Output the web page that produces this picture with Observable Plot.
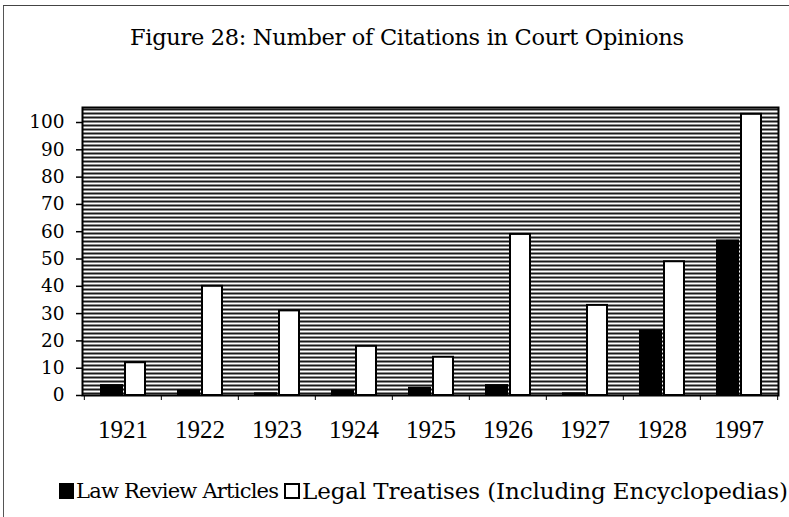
<!DOCTYPE html>
<html><head><meta charset="utf-8">
<script src="https://cdn.jsdelivr.net/npm/d3@7"></script>
<script src="https://cdn.jsdelivr.net/npm/@observablehq/plot@0.6"></script>
<style>
html,body{margin:0;padding:0;background:#fff;}
#wrap{position:relative;width:789px;height:517px;overflow:hidden;background:#fff;}
.edge-left{position:absolute;left:3px;top:5px;width:1px;height:512px;background:#555;}
.edge-top{position:absolute;left:3px;top:5px;width:786px;height:1px;background:#444;}
.txt{position:absolute;font-family:"DejaVu Serif",serif;white-space:nowrap;color:#000;}
#chart{position:absolute;left:0;top:60px;}
.sw{position:absolute;box-sizing:border-box;}
.sw.black{background:#000;}
.sw.white{background:#fff;border:2px solid #000;}
</style></head><body>
<div id="wrap">
  <div class="edge-left"></div><div class="edge-top"></div>
  <div id="chart"></div>
</div>
<script>
const titleText = "Figure 28: Number of Citations in Court Opinions";
const years = ["1921","1922","1923","1924","1925","1926","1927","1928","1997"];
const lawReview = [4, 2, 1, 2, 3, 4, 1, 24, 57];
const treatises = [12, 40, 31, 18, 14, 59, 33, 49, 103];
const yTicks = [0,10,20,30,40,50,60,70,80,90,100];
const seriesNames = ["Law Review Articles", "Legal Treatises (Including Encyclopedias)"];

const rows = years.map((y, i) => ({year: y, law: lawReview[i], treatise: treatises[i]}));

const W = 789, H = 400, mL = 82, mR = 11, mT = 47, mB = 65;
const bw = (W - mL - mR) / years.length;

const chart = Plot.plot({
  width: W, height: H,
  marginLeft: mL, marginRight: mR, marginTop: mT, marginBottom: mB,
  style: {background: "transparent", color: "#000"},
  x: {type: "band", domain: years, padding: 0, axis: null},
  y: {domain: [0, 105.5], axis: null},
  marks: [
    Plot.frame({fill: "#777", stroke: "none"}),
    Plot.barY(rows, {x: "year", y: "law", fill: "#000", insetLeft: 16, insetRight: 38}),
    Plot.barY(rows, {x: "year", y: "treatise", fill: "#fff", stroke: "#000", strokeWidth: 2, insetLeft: 41, insetRight: 16}),
    Plot.frame({stroke: "#000", strokeWidth: 2}),
    Plot.axisY({ticks: yTicks, tickSize: 6, tickPadding: 12, fontSize: 18.5, fontFamily: "DejaVu Serif", label: null, strokeWidth: 1.5}),
    Plot.axisX({tickSize: 0, tickPadding: 25, fontSize: 25, fontFamily: "Liberation Serif", label: null}),
    Plot.axisX({tickSize: 5, tickFormat: () => "", dx: -bw / 2, label: null}),
    Plot.axisX({ticks: [years[years.length - 1]], tickSize: 5, tickFormat: () => "", dx: bw / 2, label: null})
  ]
});

// stripe pattern for the plot background (scanned halftone look)
const ns = "http://www.w3.org/2000/svg";
const defs = document.createElementNS(ns, "defs");
defs.innerHTML = '<pattern id="stripes" patternUnits="userSpaceOnUse" width="4" height="4"><rect width="4" height="4" fill="#fff"/><rect y="0" width="4" height="2" fill="#1a1a1a"/></pattern>';
chart.insertBefore(defs, chart.firstChild);
const frameRect = chart.querySelector('[aria-label="frame"]');
if (frameRect) {
  const r = frameRect.tagName === "rect" ? frameRect : frameRect.querySelector("rect");
  if (r) r.setAttribute("fill", "url(#stripes)");
}
document.getElementById("chart").appendChild(chart);

// text placed to match the reference widths
const wrap = document.getElementById("wrap");
const ctx = document.createElement("canvas").getContext("2d");
function placeText(str, left, right, top, size) {
  ctx.font = size + 'px "DejaVu Serif"';
  const w = ctx.measureText(str).width;
  const ls = (right - left - w) / Math.max(1, str.length - 1);
  const d = document.createElement("div");
  d.className = "txt";
  d.textContent = str;
  d.style.left = left + "px";
  d.style.top = top + "px";
  d.style.fontSize = size + "px";
  d.style.lineHeight = "1";
  d.style.letterSpacing = ls + "px";
  wrap.appendChild(d);
}
function swatch(cls, left, top, w, h) {
  const s = document.createElement("div");
  s.className = "sw " + cls;
  s.style.left = left + "px"; s.style.top = top + "px";
  s.style.width = w + "px"; s.style.height = h + "px";
  wrap.appendChild(s);
}
placeText(titleText, 130, 684, 26, 22.5);
swatch("black", 59, 483, 15, 16);
placeText(seriesNames[0], 76, 279, 481, 21);
swatch("white", 284, 483, 16, 16);
placeText(seriesNames[1], 302, 788, 480, 23);
</script>
</body></html>
